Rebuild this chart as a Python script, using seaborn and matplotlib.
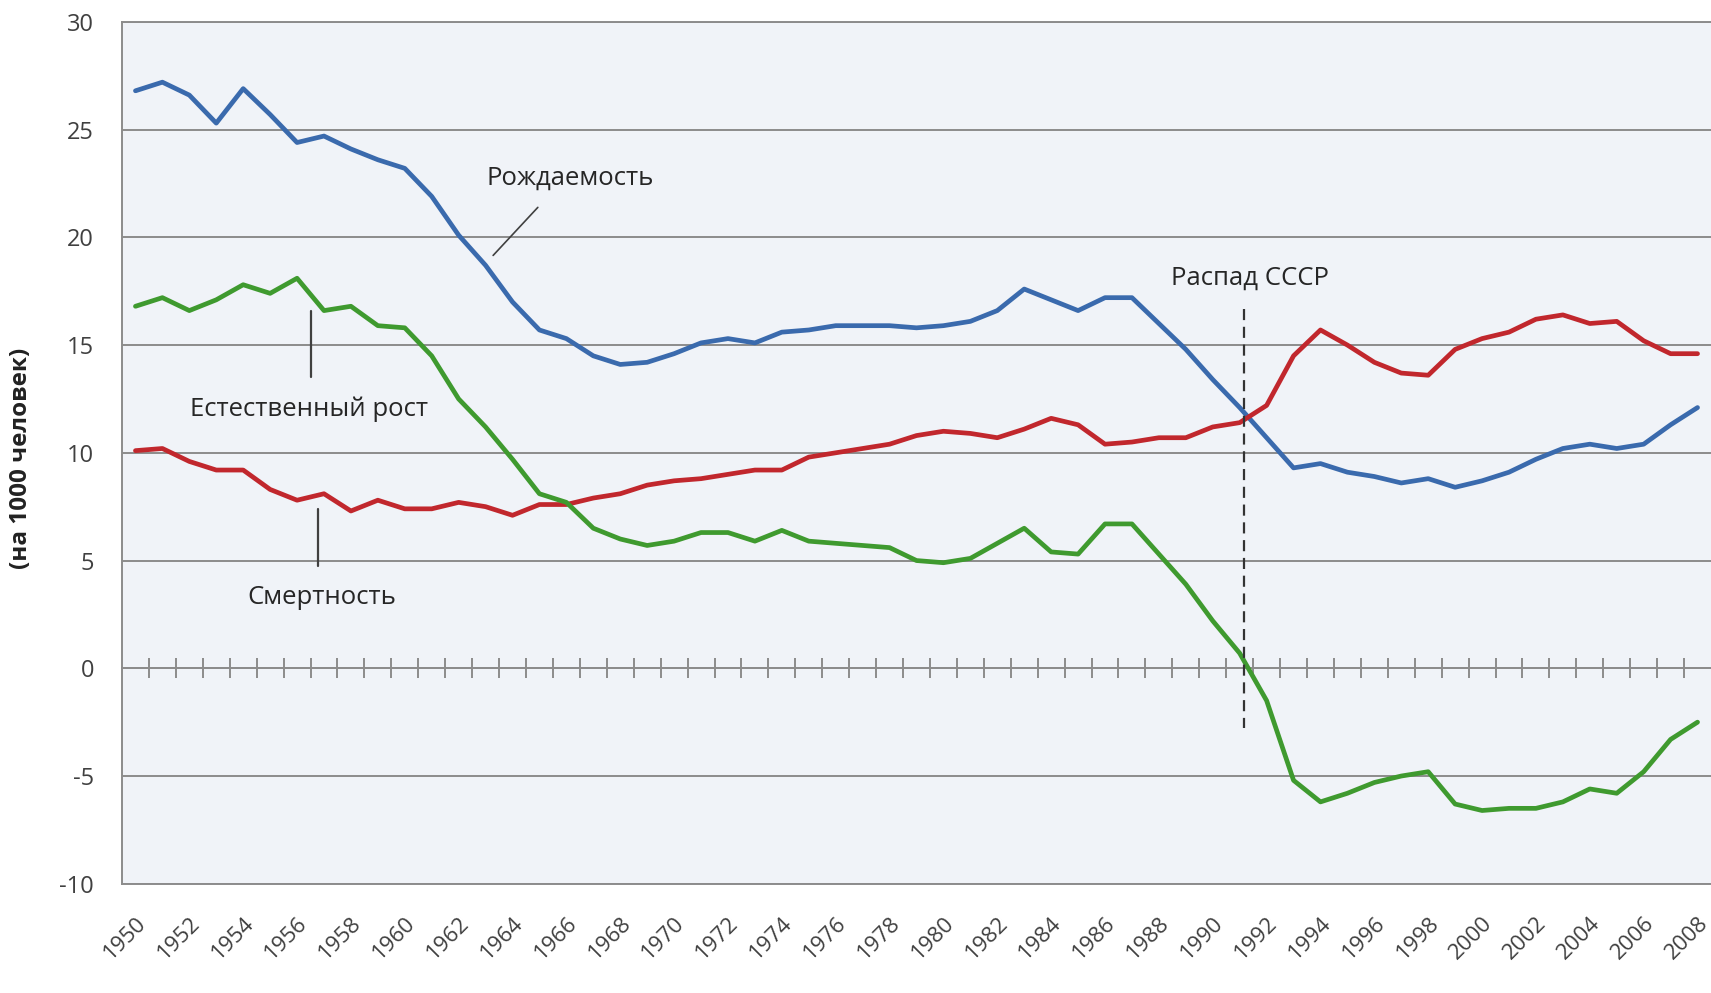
import numpy as np
import pandas as pd
import matplotlib
matplotlib.use("Agg")
import matplotlib.pyplot as plt
import seaborn as sns

years = list(range(1950, 2009))
birth = [26.8, 27.2, 26.6, 25.3, 26.9, 25.7, 24.4, 24.7, 24.1, 23.6,
         23.2, 21.9, 20.1, 18.7, 17.0, 15.7, 15.3, 14.5, 14.1, 14.2,
         14.6, 15.1, 15.3, 15.1, 15.6, 15.7, 15.9, 15.9, 15.9, 15.8,
         15.9, 16.1, 16.6, 17.6, 17.1, 16.6, 17.2, 17.2, 16.0, 14.8,
         13.4, 12.1, 10.7, 9.3, 9.5, 9.1, 8.9, 8.6, 8.8, 8.4,
         8.7, 9.1, 9.7, 10.2, 10.4, 10.2, 10.4, 11.3, 12.1]
death = [10.1, 10.2, 9.6, 9.2, 9.2, 8.3, 7.8, 8.1, 7.3, 7.8,
         7.4, 7.4, 7.7, 7.5, 7.1, 7.6, 7.6, 7.9, 8.1, 8.5,
         8.7, 8.8, 9.0, 9.2, 9.2, 9.8, 10.0, 10.2, 10.4, 10.8,
         11.0, 10.9, 10.7, 11.1, 11.6, 11.3, 10.4, 10.5, 10.7, 10.7,
         11.2, 11.4, 12.2, 14.5, 15.7, 15.0, 14.2, 13.7, 13.6, 14.8,
         15.3, 15.6, 16.2, 16.4, 16.0, 16.1, 15.2, 14.6, 14.6]
growth = [16.8, 17.2, 16.6, 17.1, 17.8, 17.4, 18.1, 16.6, 16.8, 15.9,
          15.8, 14.5, 12.5, 11.2, 9.7, 8.1, 7.7, 6.5, 6.0, 5.7,
          5.9, 6.3, 6.3, 5.9, 6.4, 5.9, 5.8, 5.7, 5.6, 5.0,
          4.9, 5.1, 5.8, 6.5, 5.4, 5.3, 6.7, 6.7, 5.3, 3.9,
          2.2, 0.7, -1.5, -5.2, -6.2, -5.8, -5.3, -5.0, -4.8, -6.3,
          -6.6, -6.5, -6.5, -6.2, -5.6, -5.8, -4.8, -3.3, -2.5]

series_names = ["Рождаемость", "Смертность", "Естественный рост"]
colors = {"Рождаемость": "#3a6aad", "Смертность": "#c1272d", "Естественный рост": "#3f9a2f"}

df = pd.concat([
    pd.DataFrame({"year": years, "value": birth, "series": series_names[0]}),
    pd.DataFrame({"year": years, "value": death, "series": series_names[1]}),
    pd.DataFrame({"year": years, "value": growth, "series": series_names[2]}),
])

sns.set_style("white", {"axes.facecolor": "#f0f3f8"})
plt.rcParams["font.family"] = ["Open Sans", "DejaVu Sans"]
plt.rcParams["axes.unicode_minus"] = False

grid_c = "#8c8c8c"
text_c = "#404040"

fig = plt.figure(figsize=(17.11, 9.93), dpi=100)
ax = fig.add_axes([0.0713, 0.110, 0.9287, 0.868])

sns.lineplot(data=df, x="year", y="value", hue="series", hue_order=series_names,
             palette=colors, linewidth=3.4, legend=False, ax=ax, zorder=3)

ax.set_xlim(1949.5, 2008.5)
ax.set_ylim(-10, 30)
ax.set_yticks(range(-10, 31, 5))
ax.set_xticks(years[::2])
ax.set_xticklabels([str(y) for y in years[::2]], rotation=45, ha="right",
                   rotation_mode="anchor", fontsize=16, color=text_c)
ax.tick_params(axis="x", length=0, pad=21)
ax.tick_params(axis="y", length=0, pad=20, labelsize=17, labelcolor=text_c)
ax.set_xlabel("")
ax.set_ylabel("(на 1000 человек)", fontsize=17.5, fontweight="bold", color="#222222")
ax.yaxis.set_label_coords(-0.056, 0.494)

ax.grid(axis="y", color=grid_c, linewidth=1.4)
ax.grid(axis="x", visible=False)
ax.set_axisbelow(True)
for side in ["left", "bottom", "top"]:
    ax.spines[side].set_color(grid_c)
    ax.spines[side].set_linewidth(1.4)
ax.spines["right"].set_visible(False)

# category axis crossing at zero with tick marks between years
sec = ax.secondary_xaxis(0.25)
sec.set_xticks([y + 0.5 for y in years[:-1]])
sec.set_xticklabels([])
sec.tick_params(direction="inout", length=15, width=1.4, color=grid_c)
for s in sec.spines.values():
    s.set_color(grid_c)
    s.set_linewidth(1.4)

# annotations
ann = dict(fontsize=18.5, color="#262626", ha="center", va="center")
ax.text(1966.15, 22.76, "Рождаемость", **ann)
ax.plot([1964.94, 1963.28], [21.39, 19.16], color="#404040", lw=1.2)
ax.text(1956.44, 12.03, "Естественный рост", **ann)
ax.plot([1956.52, 1956.52], [16.58, 13.54], color="#404040", lw=1.6)
ax.text(1956.92, 3.27, "Смертность", **ann)
ax.plot([1956.76, 1956.76], [7.37, 4.73], color="#404040", lw=1.6)
ax.text(1991.38, 18.1, "Распад СССР", **ann)
ax.plot([1991.17, 1991.17], [16.68, -2.76], color="#333333", lw=1.6,
        linestyle=(0, (5, 3)), zorder=4)

fig.savefig("out.png", dpi=100, facecolor="white")
